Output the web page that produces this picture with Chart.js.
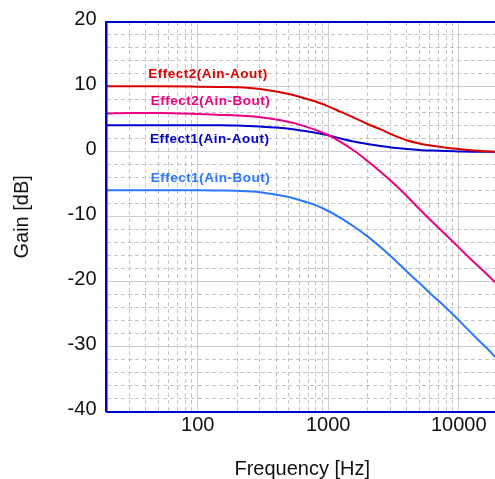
<!DOCTYPE html>
<html lang="en">
<head>
  <meta charset="UTF-8" />
  <title>Gain vs Frequency</title>
  <script src="https://cdn.jsdelivr.net/npm/chart.js@4.4.0/dist/chart.umd.min.js"></script>
  <style>
    html, body { margin: 0; padding: 0; background: #fff; overflow: hidden; }
    #wrap { width: 495px; height: 479px; overflow: hidden; }
  </style>
</head>
<body>
  <div id="wrap"><canvas id="gainChart" width="498" height="479"></canvas></div>

  <script>
    // frequencies (Hz) the curves were read at
    const freqs = [20, 30, 50, 100, 150, 200, 300, 400, 500, 600, 800, 1000,
                   1250, 1600, 2000, 2500, 3150, 4000, 5000, 6300, 8000, 10000,
                   12500, 16000, 20000];

    // gain (dB) per series
    const effect2AinAout = [10.1, 10.1, 10.1, 10.05, 10.0, 9.95, 9.7, 9.3, 8.9, 8.5, 7.75, 7.0,
                            6.15, 5.2, 4.3, 3.5, 2.6, 1.8, 1.3, 0.95, 0.65, 0.45,
                            0.25, 0.1, 0];
    const effect2AinBout = [5.9, 6.0, 6.0, 5.85, 5.7, 5.6, 5.35, 5.0, 4.6, 4.2, 3.4, 2.6,
                            1.5, 0.1, -1.4, -3.0, -4.8, -6.8, -8.8, -10.8, -12.8, -14.7,
                            -16.6, -18.6, -20.5];
    const effect1AinAout = [4.1, 4.1, 4.1, 4.1, 4.1, 4.05, 3.9, 3.75, 3.55, 3.35, 2.95, 2.55,
                            2.05, 1.55, 1.2, 0.9, 0.65, 0.45, 0.3, 0.2, 0.12, 0.08,
                            0.04, 0.02, 0];
    const effect1AinBout = [-5.9, -5.9, -5.9, -5.9, -5.95, -6.0, -6.2, -6.6, -6.95, -7.4, -8.2, -9.1,
                            -10.2, -11.6, -13.0, -14.6, -16.4, -18.4, -20.2, -22.1, -24.0, -25.9,
                            -27.9, -30.0, -32.0];

    const seriesNames = ['Effect2(Ain-Aout)', 'Effect2(Ain-Bout)', 'Effect1(Ain-Aout)', 'Effect1(Ain-Bout)'];
    const seriesValues = [effect2AinAout, effect2AinBout, effect1AinAout, effect1AinBout];

    // tick labels / grid positions
    const freqMajorTicks = [100, 1000, 10000];
    const freqMinorTicks = [30, 40, 50, 60, 70, 80, 90,
                            200, 300, 400, 500, 600, 700, 800, 900,
                            2000, 3000, 4000, 5000, 6000, 7000, 8000, 9000];
    const gainMajorTicks = [-40, -30, -20, -10, 0, 10, 20];
    const gainMinorTicks = [-38, -36, -34, -32, -28, -26, -24, -22, -18, -16, -14, -12,
                            -8, -6, -4, -2, 2, 4, 6, 8, 12, 14, 16, 18];

    const seriesColors = ['#dd0000', '#ee0080', '#0000cc', '#2a78ff'];
    const FAMILY = '"Liberation Sans", Arial, sans-serif';
    const BLUE_FRAME = '#0000cc';

    // where each series name sits (freq, dB of the text baseline)
    const labelSpots = [
      { f: 41.8, db: 11.45 },
      { f: 43.6, db: 7.2 },
      { f: 43.1, db: 1.3 },
      { f: 43.6, db: -4.6 }
    ];

    const seriesLabels = {
      id: 'seriesLabels',
      afterDatasetsDraw(chart) {
        const { ctx, scales: { x, y } } = chart;
        ctx.save();
        ctx.font = 'bold 13.5px ' + FAMILY;
        ctx.letterSpacing = '0.5px';
        ctx.textAlign = 'left';
        ctx.textBaseline = 'alphabetic';
        labelSpots.forEach((spot, i) => {
          ctx.fillStyle = seriesColors[i];
          ctx.fillText(seriesNames[i], x.getPixelForValue(spot.f), y.getPixelForValue(spot.db));
        });
        ctx.restore();
      }
    };

    const datasets = seriesNames.map((name, i) => ({
      label: name,
      data: freqs.map((f, j) => ({ x: f, y: seriesValues[i][j] })),
      borderColor: seriesColors[i],
      backgroundColor: seriesColors[i],
      borderWidth: 2,
      pointRadius: 0,
      cubicInterpolationMode: 'monotone',
      fill: false
    }));

    const hiddenTicks = { display: false };

    new Chart(document.getElementById('gainChart').getContext('2d'), {
      type: 'line',
      data: { datasets },
      plugins: [seriesLabels],
      options: {
        responsive: false,
        animation: false,
        layout: { padding: { top: 21, left: 0, right: 0, bottom: 0 } },
        plugins: { legend: { display: false }, tooltip: { enabled: false } },
        scales: {
          x: {
            type: 'logarithmic',
            position: 'bottom',
            min: 20, max: 20000,
            afterBuildTicks: s => { s.ticks = freqMajorTicks.map(v => ({ value: v })); },
            afterFit: s => { s.height = 67.3; },
            ticks: {
              font: { size: 20, family: FAMILY }, color: '#111', padding: 2,
              maxRotation: 0, autoSkip: false, callback: v => String(v)
            },
            grid: { color: '#cccccc', lineWidth: 1, drawTicks: false },
            border: { color: BLUE_FRAME, width: 2, z: 1 },
            title: {
              display: true, text: 'Frequency [Hz]', color: '#111',
              font: { size: 20, family: FAMILY, lineHeight: 1 },
              padding: { top: 0, bottom: 0 }
            }
          },
          xMinor: {
            type: 'logarithmic',
            position: 'bottom',
            min: 20, max: 20000,
            afterBuildTicks: s => { s.ticks = freqMinorTicks.map(v => ({ value: v })); },
            afterFit: s => { s.height = 0; },
            ticks: hiddenTicks,
            grid: { color: '#c4c4c4', lineWidth: 1, drawTicks: false },
            border: { display: false, dash: [4, 3] }
          },
          xTop: {
            type: 'linear',
            position: 'top',
            afterFit: s => { s.height = 0; },
            ticks: hiddenTicks,
            grid: { display: false },
            border: { color: BLUE_FRAME, width: 2, z: 1 }
          },
          y: {
            type: 'linear',
            position: 'left',
            min: -40, max: 20,
            afterBuildTicks: s => { s.ticks = gainMajorTicks.map(v => ({ value: v })); },
            afterFit: s => { s.width = 106.5; },
            ticks: { font: { size: 20, family: FAMILY }, color: '#111', padding: 10, labelOffset: -2.5 },
            grid: { color: '#cccccc', lineWidth: 1, drawTicks: false },
            border: { color: BLUE_FRAME, width: 2.5, z: 1 },
            title: {
              display: true, text: 'Gain [dB]', color: '#111',
              font: { size: 20, family: FAMILY, lineHeight: 1 },
              padding: { top: 12.5, bottom: 0 }
            }
          },
          yMinor: {
            type: 'linear',
            position: 'left',
            min: -40, max: 20,
            afterBuildTicks: s => { s.ticks = gainMinorTicks.map(v => ({ value: v })); },
            afterFit: s => { s.width = 0; },
            ticks: hiddenTicks,
            grid: { color: '#c4c4c4', lineWidth: 1, drawTicks: false },
            border: { display: false, dash: [4, 3] }
          }
        }
      }
    });
  </script>
</body>
</html>
